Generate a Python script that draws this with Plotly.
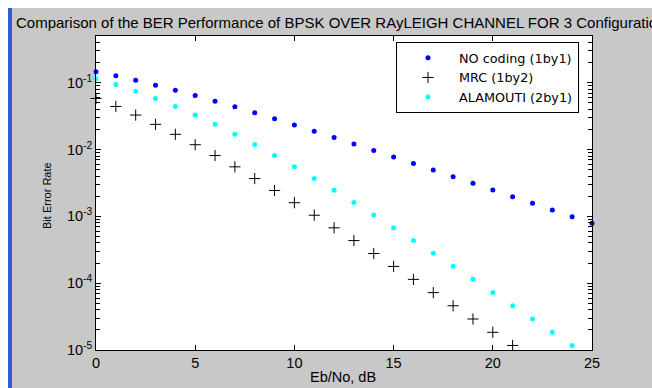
import plotly.graph_objects as go

# ---- data ----
eb_no_db = list(range(26))
ber_no_coding = [0.1464, 0.1267, 0.1085, 0.0919, 0.0771, 0.0642, 0.0530, 0.0435,
                 0.0355, 0.0288, 0.0233, 0.0187, 0.0151, 0.0121, 0.00967, 0.00772,
                 0.00616, 0.00492, 0.00392, 0.00312, 0.00248, 0.00197, 0.00157,
                 0.00125, 0.00099, 0.00079]
eb_no_mrc = list(range(22))
ber_mrc = [0.0581, 0.0441, 0.0328, 0.0238, 0.0169, 0.0118, 0.00813, 0.00551,
           0.00368, 0.00244, 0.00160, 0.00104, 0.000674, 0.000434, 0.000278,
           0.000178, 0.000114, 7.22e-5, 4.59e-5, 2.91e-5, 1.84e-5, 1.17e-5]
eb_no_alamouti = list(range(25))
ber_alamouti = [0.1151, 0.0939, 0.0748, 0.0582, 0.0442, 0.0329, 0.0239, 0.0170,
                0.0119, 0.00816, 0.00553, 0.00370, 0.00245, 0.00161, 0.00105,
                0.000677, 0.000436, 0.000280, 0.000179, 0.000114, 7.26e-5,
                4.61e-5, 2.92e-5, 1.85e-5, 1.17e-5]

series_names = ["NO coding (1by1)", "MRC (1by2)", "ALAMOUTI (2by1)"]
y_tick_vals = [1e-5, 1e-4, 1e-3, 1e-2, 1e-1]
y_tick_text = ["10<sup>-5</sup>", "10<sup>-4</sup>", "10<sup>-3</sup>",
               "10<sup>-2</sup>", "10<sup>-1</sup>"]
x_tick_vals = [0, 5, 10, 15, 20, 25]
title_text = "Comparison of the BER Performance of BPSK OVER RAyLEIGH CHANNEL FOR 3 Configurations"

# ---- geometry helpers (pixel layout of the 652x388 window) ----
W, H = 652, 388
L, R, T, B = 96, 592, 36, 350
def px(x):
    return (x - L) / (R - L)
def py(y):
    return (B - y) / (B - T)

FONT = "Liberation Sans, Arial, Helvetica, sans-serif"
FS = 14.5
GRAY = "#c8c8c8"

fig = go.Figure()
fig.add_trace(go.Scatter(x=eb_no_db, y=ber_no_coding, mode="markers", name=series_names[0],
                         marker=dict(symbol="circle", size=5, color="#0000ff"),
                         cliponaxis=False))
fig.add_trace(go.Scatter(x=eb_no_mrc, y=ber_mrc, mode="markers", name=series_names[1],
                         marker=dict(symbol="cross-thin", size=8,
                                     line=dict(color="#000000", width=1)),
                         cliponaxis=False))
fig.add_trace(go.Scatter(x=eb_no_alamouti, y=ber_alamouti, mode="markers", name=series_names[2],
                         marker=dict(symbol="circle", size=5, color="#00ffff"),
                         cliponaxis=False))

minor_vals = [m * 10 ** e for e in range(-5, 0) for m in range(2, 10) if m * 10 ** e <= 0.5]

fig.update_xaxes(range=[0, 25], tickvals=x_tick_vals, ticks="inside", ticklen=5,
                 tickcolor="black", showline=True, linecolor="black", linewidth=1,
                 mirror="ticks", showgrid=False, zeroline=False,
                 tickfont=dict(family=FONT, size=FS, color="black"))
fig.update_yaxes(type="log", range=[-5, -0.30103], tickvals=y_tick_vals, ticktext=y_tick_text,
                 ticks="inside", ticklen=5, tickcolor="black", showline=True,
                 linecolor="black", linewidth=1, mirror="ticks", showgrid=False,
                 zeroline=False, tickfont=dict(family=FONT, size=FS, color="black"),
                 minor=dict(tickvals=minor_vals, ticks="inside", ticklen=4,
                            tickcolor="black", showgrid=False))

shapes = [
    dict(type="rect", xref="paper", yref="paper", x0=px(0), x1=px(W), y0=py(8), y1=py(0),
         fillcolor="white", line=dict(width=0), layer="below"),
    dict(type="rect", xref="paper", yref="paper", x0=px(0), x1=px(8), y0=py(H), y1=py(0),
         fillcolor="white", line=dict(width=0), layer="below"),
    dict(type="rect", xref="paper", yref="paper", x0=px(8), x1=px(12), y0=py(H), y1=py(8),
         fillcolor="#2a5fd6", line=dict(width=0), layer="below"),
]

annotations = [
    dict(text=title_text, xref="paper", yref="paper", x=0.5, y=py(23), xanchor="center",
         yanchor="middle", showarrow=False, font=dict(family=FONT, size=15, color="black")),
    dict(text="Bit Error Rate", xref="paper", yref="paper", x=px(47), y=py(196),
         xanchor="center", yanchor="middle", textangle=-90, showarrow=False,
         font=dict(family=FONT, size=11, color="black")),
    dict(text="Eb/No, dB", xref="paper", yref="paper", x=px(343), y=py(377),
         xanchor="center", yanchor="middle", showarrow=False,
         font=dict(family=FONT, size=FS, color="black")),
]

fig.update_layout(
    width=W, height=H,
    margin=dict(l=L, r=W - R, t=T, b=H - B, pad=0),
    paper_bgcolor=GRAY, plot_bgcolor="white",
    showlegend=True,
    legend=dict(x=px(579), y=py(42), xanchor="right", yanchor="top",
                bgcolor="white", bordercolor="black", borderwidth=1,
                itemwidth=52, tracegroupgap=0,
                font=dict(family="DejaVu Sans, sans-serif", size=12.8, color="black")),
    shapes=shapes, annotations=annotations,
)

fig.write_html("out.html", config={"displayModeBar": False, "responsive": False},
               post_script="document.body.style.margin='0';document.body.style.overflow='hidden';")
